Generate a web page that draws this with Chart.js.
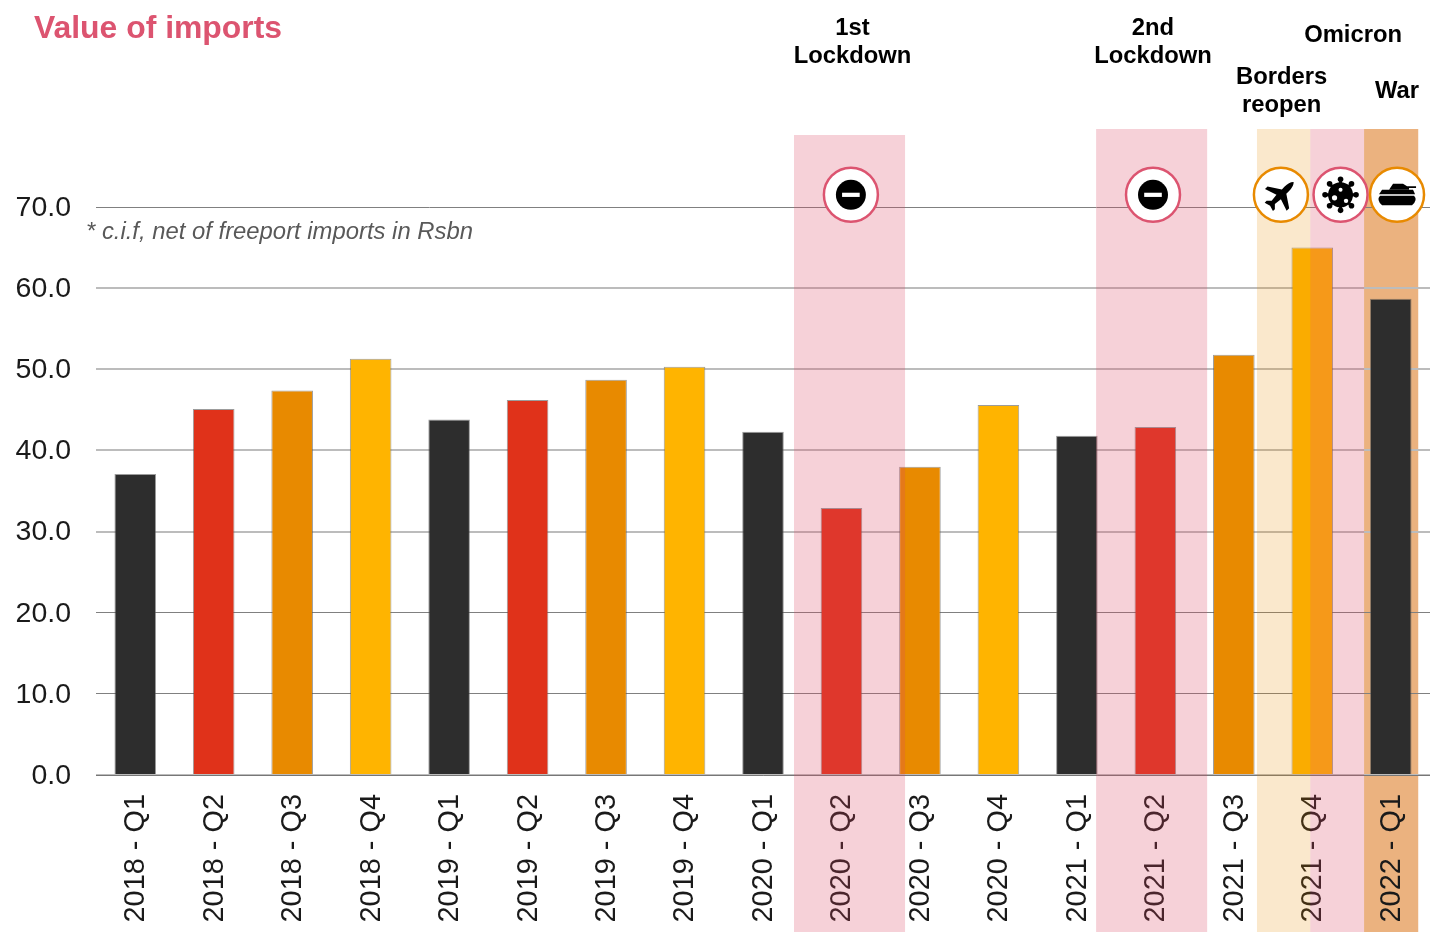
<!DOCTYPE html>
<html>
<head>
<meta charset="utf-8">
<title>Value of imports</title>
<script src="https://cdn.jsdelivr.net/npm/chart.js@4"></script>
<style>
  html, body { margin: 0; padding: 0; background: #fff; overflow: hidden; }
  #wrap { width: 1430px; height: 932px; }
</style>
</head>
<body>
<div id="wrap"><canvas id="importsChart" width="1430" height="932"></canvas></div>
<script>
const quarters = [
  "2018 - Q1", "2018 - Q2", "2018 - Q3", "2018 - Q4",
  "2019 - Q1", "2019 - Q2", "2019 - Q3", "2019 - Q4",
  "2020 - Q1", "2020 - Q2", "2020 - Q3", "2020 - Q4",
  "2021 - Q1", "2021 - Q2", "2021 - Q3", "2021 - Q4",
  "2022 - Q1"
];
const importValues = [37.1, 45.1, 47.4, 51.3, 43.8, 46.2, 48.7, 50.3, 42.3, 32.9, 38.0, 45.6, 41.8, 42.9, 51.8, 65.0, 58.7];
const yTicks = [0, 10, 20, 30, 40, 50, 60, 70];

const quarterColors = ["#2d2d2d", "#e0321a", "#e88a00", "#ffb400"];
const PINK = "#dc5470";
const ORANGE = "#e88a00";

// shaded periods, from/to in category units. War band sits under the bars, the rest on top
const bands = [
  { from: 8.395, to: 9.81, top: 135, color: "rgba(218,72,98,0.25)" },
  { from: 12.245, to: 13.66, top: 129, color: "rgba(218,72,98,0.25)" },
  { from: 14.295, to: 14.975, top: 129, color: "rgba(232,138,0,0.2)" },
  { from: 14.975, to: 15.66, top: 129, color: "rgba(218,72,98,0.25)" },
  { from: 15.66, to: 16.35, top: 129, color: "#ebb27f", under: true }
];

const eventLabels = [
  { lines: ["1st", "Lockdown"], at: 9.14, y: 28 },
  { lines: ["2nd", "Lockdown"], at: 12.97, y: 28 },
  { lines: ["Borders", "reopen"], at: 14.61, y: 77 },
  { lines: ["Omicron"], at: 15.52, y: 35 },
  { lines: ["War"], at: 16.08, y: 91 }
];

const eventIcons = [
  { at: 9.12, ring: PINK, draw: drawNoEntry },
  { at: 12.97, ring: PINK, draw: drawNoEntry },
  { at: 14.6, ring: ORANGE, draw: drawPlane },
  { at: 15.36, ring: PINK, draw: drawVirus },
  { at: 16.08, ring: ORANGE, draw: drawTank }
];

function drawNoEntry(ctx) {
  ctx.fillStyle = "#000";
  ctx.beginPath();
  ctx.arc(0, 0, 15, 0, Math.PI * 2);
  ctx.fill();
  ctx.fillStyle = "#fff";
  ctx.fillRect(-8.8, -2.1, 17.6, 4.2);
}

function drawPlane(ctx) {
  ctx.save();
  ctx.rotate(Math.PI / 4);
  ctx.scale(0.9, 0.9);
  ctx.fillStyle = "#000";
  ctx.beginPath();
  ctx.moveTo(0, -20);
  ctx.quadraticCurveTo(3.5, -17, 3.5, -9);
  ctx.lineTo(3.5, -5);
  ctx.lineTo(17, 4);
  ctx.lineTo(17, 8);
  ctx.lineTo(3.5, 3.5);
  ctx.lineTo(2.5, 12);
  ctx.lineTo(6.5, 16);
  ctx.lineTo(6.5, 19);
  ctx.lineTo(0, 17);
  ctx.lineTo(-6.5, 19);
  ctx.lineTo(-6.5, 16);
  ctx.lineTo(-2.5, 12);
  ctx.lineTo(-3.5, 3.5);
  ctx.lineTo(-17, 8);
  ctx.lineTo(-17, 4);
  ctx.lineTo(-3.5, -5);
  ctx.lineTo(-3.5, -9);
  ctx.quadraticCurveTo(-3.5, -17, 0, -20);
  ctx.fill();
  ctx.restore();
}

function drawVirus(ctx) {
  ctx.fillStyle = "#000";
  ctx.strokeStyle = "#000";
  ctx.lineWidth = 3;
  ctx.beginPath();
  ctx.arc(0, 0, 12.5, 0, Math.PI * 2);
  ctx.fill();
  for (let i = 0; i < 8; i++) {
    const a = i * Math.PI / 4;
    ctx.beginPath();
    ctx.moveTo(Math.cos(a) * 10, Math.sin(a) * 10);
    ctx.lineTo(Math.cos(a) * 15, Math.sin(a) * 15);
    ctx.stroke();
    ctx.beginPath();
    ctx.arc(Math.cos(a) * 15.5, Math.sin(a) * 15.5, 2.8, 0, Math.PI * 2);
    ctx.fill();
  }
  ctx.fillStyle = "#fff";
  [[-6, 3, 2.6], [0, -5, 2], [5.5, 6, 2.2]].forEach(d => {
    ctx.beginPath();
    ctx.arc(d[0], d[1], d[2], 0, Math.PI * 2);
    ctx.fill();
  });
}

function drawTank(ctx) {
  ctx.fillStyle = "#000";
  // turret and gun
  ctx.beginPath();
  ctx.moveTo(-8, -5);
  ctx.lineTo(-4, -11);
  ctx.lineTo(6, -11);
  ctx.lineTo(10, -8.6);
  ctx.lineTo(19, -8.6);
  ctx.lineTo(19, -6.8);
  ctx.lineTo(12, -6.8);
  ctx.lineTo(12, -5);
  ctx.fill();
  // hull
  ctx.beginPath();
  ctx.moveTo(-15, -5);
  ctx.lineTo(16, -5);
  ctx.lineTo(18, -0.5);
  ctx.lineTo(-18, -0.5);
  ctx.fill();
  // tracks
  ctx.beginPath();
  ctx.moveTo(-17, 1);
  ctx.lineTo(17, 1);
  ctx.quadraticCurveTo(21, 5, 15, 10.5);
  ctx.lineTo(-15, 10.5);
  ctx.quadraticCurveTo(-21, 5, -17, 1);
  ctx.fill();
}

function paintBands(chart, under) {
  const { ctx, scales } = chart;
  const step = scales.x.getPixelForValue(1) - scales.x.getPixelForValue(0);
  const xAt = v => scales.x.getPixelForValue(0) + v * step;
  ctx.save();
  bands.filter(b => !!b.under === under).forEach(b => {
    ctx.fillStyle = b.color;
    ctx.fillRect(xAt(b.from), b.top, xAt(b.to) - xAt(b.from), chart.height - b.top);
  });
  ctx.restore();
}

const bandPlugin = {
  id: "bands",
  beforeDraw(chart) {
    paintBands(chart, true);
  },
  afterDraw(chart) {
    const { ctx, scales } = chart;
    paintBands(chart, false);
    const step = scales.x.getPixelForValue(1) - scales.x.getPixelForValue(0);
    const xAt = v => scales.x.getPixelForValue(0) + v * step;

    // title and note
    ctx.save();
    ctx.textBaseline = "alphabetic";
    ctx.textAlign = "left";
    ctx.fillStyle = PINK;
    ctx.font = "bold 31.9px 'Liberation Sans'";
    ctx.fillText("Value of imports", 34, 38);
    ctx.fillStyle = "#595959";
    ctx.font = "italic 23.85px 'Liberation Sans'";
    ctx.fillText("* c.i.f, net of freeport imports in Rsbn", 86, 239);

    // event labels
    ctx.fillStyle = "#000";
    ctx.font = "bold 23.8px 'Liberation Sans'";
    ctx.textAlign = "center";
    ctx.textBaseline = "middle";
    eventLabels.forEach(l => {
      l.lines.forEach((line, i) => ctx.fillText(line, xAt(l.at), l.y + i * 28));
    });

    // event icons, sitting just above the 70 line
    const iconY = scales.y.getPixelForValue(71.5);
    eventIcons.forEach(icon => {
      ctx.save();
      ctx.translate(xAt(icon.at), iconY);
      ctx.beginPath();
      ctx.arc(0, 0, 27, 0, Math.PI * 2);
      ctx.fillStyle = "#fff";
      ctx.fill();
      ctx.lineWidth = 2.5;
      ctx.strokeStyle = icon.ring;
      ctx.stroke();
      icon.draw(ctx);
      ctx.restore();
    });
    ctx.restore();
  }
};

new Chart(document.getElementById("importsChart").getContext("2d"), {
  type: "bar",
  data: {
    labels: quarters,
    datasets: [{
      data: importValues,
      backgroundColor: quarters.map((q, i) => quarterColors[i % 4]),
      borderColor: "rgba(90,90,90,0.6)",
      borderWidth: 1,
      barPercentage: 0.53,
      categoryPercentage: 1
    }]
  },
  options: {
    responsive: false,
    animation: false,
    layout: { padding: { top: 207, right: 0, left: 0, bottom: 0 } },
    plugins: { legend: { display: false }, title: { display: false }, tooltip: { enabled: false } },
    scales: {
      x: {
        afterFit(scale) {
          scale.height = 157;
          scale.paddingLeft = 0;
          scale.paddingRight = 0;
        },
        grid: { display: false, drawTicks: false },
        border: { color: "#777", width: 1 },
        ticks: {
          minRotation: 90,
          maxRotation: 90,
          autoSkip: false,
          padding: 19,
          labelOffset: 1,
          color: "#1a1a1a",
          font: { family: "'Liberation Sans'", size: 28.9 }
        }
      },
      y: {
        min: 0,
        max: 70,
        afterFit(scale) { scale.width = 96; },
        afterBuildTicks(scale) { scale.ticks = yTicks.map(v => ({ value: v })); },
        grid: {
          drawTicks: false,
          lineWidth: ctx => [20, 10, 70].includes(ctx.tick.value) ? 1 : 2,
          color: ctx => [20, 10, 70].includes(ctx.tick.value) ? "#808080" : "#bcbcbc"
        },
        border: { display: false },
        ticks: {
          padding: 25,
          labelOffset: 1,
          color: "#1a1a1a",
          font: { family: "'Liberation Sans'", size: 28.5 },
          callback: v => v.toFixed(1)
        }
      }
    }
  },
  plugins: [bandPlugin]
});
</script>
</body>
</html>
